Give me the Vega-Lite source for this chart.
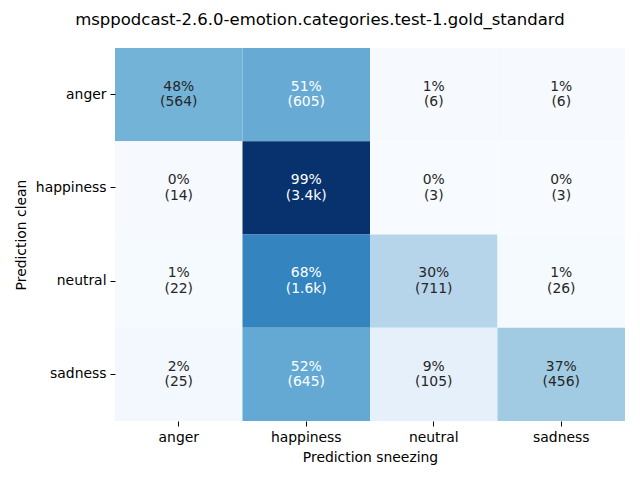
{
  "$schema": "https://vega.github.io/schema/vega-lite/v6.json",
  "autosize": {"type": "none"},
  "padding": {"left": 115, "top": 48, "right": 15, "bottom": 59},
  "width": 510,
  "height": 373,
  "background": "white",
  "title": {
    "text": "msppodcast-2.6.0-emotion.categories.test-1.gold_standard",
    "font": "DejaVu Sans",
    "fontSize": 16.5,
    "fontWeight": "normal",
    "color": "black",
    "anchor": "middle",
    "dx": -50,
    "offset": 20
  },
  "config": {
    "view": {"stroke": null},
    "font": "DejaVu Sans"
  },
  "data": {
    "values": [
      {"truth": "anger", "pred": "anger", "value": 0.478, "label": "48%\n(564)"},
      {"truth": "anger", "pred": "happiness", "value": 0.512, "label": "51%\n(605)"},
      {"truth": "anger", "pred": "neutral", "value": 0.005, "label": "1%\n(6)"},
      {"truth": "anger", "pred": "sadness", "value": 0.005, "label": "1%\n(6)"},
      {"truth": "happiness", "pred": "anger", "value": 0.004, "label": "0%\n(14)"},
      {"truth": "happiness", "pred": "happiness", "value": 0.994, "label": "99%\n(3.4k)"},
      {"truth": "happiness", "pred": "neutral", "value": 0.001, "label": "0%\n(3)"},
      {"truth": "happiness", "pred": "sadness", "value": 0.001, "label": "0%\n(3)"},
      {"truth": "neutral", "pred": "anger", "value": 0.009, "label": "1%\n(22)"},
      {"truth": "neutral", "pred": "happiness", "value": 0.678, "label": "68%\n(1.6k)"},
      {"truth": "neutral", "pred": "neutral", "value": 0.301, "label": "30%\n(711)"},
      {"truth": "neutral", "pred": "sadness", "value": 0.011, "label": "1%\n(26)"},
      {"truth": "sadness", "pred": "anger", "value": 0.020, "label": "2%\n(25)"},
      {"truth": "sadness", "pred": "happiness", "value": 0.524, "label": "52%\n(645)"},
      {"truth": "sadness", "pred": "neutral", "value": 0.085, "label": "9%\n(105)"},
      {"truth": "sadness", "pred": "sadness", "value": 0.370, "label": "37%\n(456)"}
    ]
  },
  "encoding": {
    "x": {
      "field": "pred", "type": "nominal",
      "sort": ["anger", "happiness", "neutral", "sadness"],
      "scale": {"paddingInner": 0, "paddingOuter": 0},
      "axis": {
        "title": "Prediction sneezing", "labelAngle": 0,
        "labelFont": "DejaVu Sans", "labelFontSize": 13.9, "labelColor": "black",
        "titleFont": "DejaVu Sans", "titleFontSize": 13.9, "titleFontWeight": "normal", "titleColor": "black",
        "domain": false, "ticks": true, "tickSize": 5, "tickColor": "black",
        "labelPadding": 4, "titlePadding": 7, "grid": false
      }
    },
    "y": {
      "field": "truth", "type": "nominal",
      "sort": ["anger", "happiness", "neutral", "sadness"],
      "scale": {"paddingInner": 0, "paddingOuter": 0},
      "axis": {
        "title": "Prediction clean",
        "labelFont": "DejaVu Sans", "labelFontSize": 13.9, "labelColor": "black",
        "titleFont": "DejaVu Sans", "titleFontSize": 13.9, "titleFontWeight": "normal", "titleColor": "black",
        "domain": false, "ticks": true, "tickSize": 5, "tickColor": "black",
        "labelPadding": 4, "titlePadding": 7, "grid": false
      }
    }
  },
  "layer": [
    {
      "mark": {"type": "rect"},
      "encoding": {
        "color": {
          "field": "value", "type": "quantitative",
          "scale": {
            "domain": [0, 0.125, 0.25, 0.375, 0.5, 0.625, 0.75, 0.875, 1.0],
            "range": ["#f7fbff", "#deebf7", "#c6dbef", "#9ecae1", "#6baed6", "#4292c6", "#2171b5", "#08519c", "#08306b"]
          },
          "legend": null
        }
      }
    },
    {
      "mark": {"type": "text", "lineBreak": "\n", "font": "DejaVu Sans", "fontSize": 13.9, "baseline": "middle", "lineHeight": 15.5, "dy": -7.75},
      "encoding": {
        "text": {"field": "label"},
        "color": {
          "condition": {"test": "datum.value > 0.5", "value": "white"},
          "value": "#262626"
        }
      }
    }
  ]
}
